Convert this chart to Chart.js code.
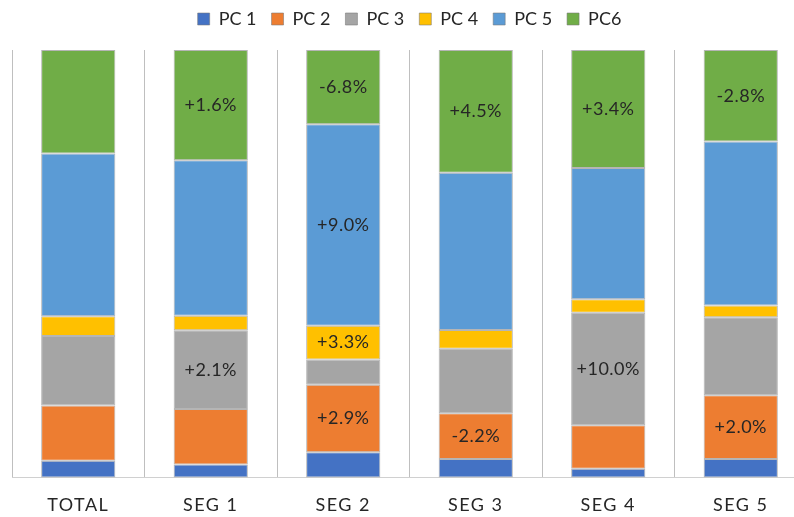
<!DOCTYPE html>
<html>
<head>
<meta charset="utf-8">
<script src="https://cdn.jsdelivr.net/npm/chart.js@4/dist/chart.umd.min.js"></script>
<style>
  html, body { margin: 0; padding: 0; background: #ffffff; overflow: hidden; }
  #wrap { width: 820px; height: 517px; }
</style>
</head>
<body>
<div id="wrap"><canvas id="chart" width="820" height="517"></canvas></div>
<script>
// Categories along the x axis
const categories = ['TOTAL', 'SEG 1', 'SEG 2', 'SEG 3', 'SEG 4', 'SEG 5'];

// Share of each component per category (%), stacked to 100
const pc1 = [3.9, 3.0, 5.9, 4.3, 2.0, 4.3];
const pc2 = [12.9, 13.0, 15.8, 10.7, 10.2, 14.9];
const pc3 = [16.3, 18.4, 5.9, 15.1, 26.3, 18.3];
const pc4 = [4.6, 3.4, 7.9, 4.4, 3.2, 2.7];
const pc5 = [38.1, 36.4, 47.1, 36.8, 30.7, 38.4];
const pc6 = [24.2, 25.8, 17.4, 28.7, 27.6, 21.4];

// Change versus TOTAL, shown inside the segments that moved notably
const pc1Labels = ['', '', '', '', '', ''];
const pc2Labels = ['', '', '+2.9%', '-2.2%', '', '+2.0%'];
const pc3Labels = ['', '+2.1%', '', '', '+10.0%', ''];
const pc4Labels = ['', '', '+3.3%', '', '', ''];
const pc5Labels = ['', '', '+9.0%', '', '', ''];
const pc6Labels = ['', '+1.6%', '-6.8%', '+4.5%', '+3.4%', '-2.8%'];

const seriesNames = ['PC 1', 'PC 2', 'PC 3', 'PC 4', 'PC 5', 'PC6'];

const FONT = 'Lato, "Open Sans", sans-serif';
const TEXT = '#262626';

const colors = ['#4472C4', '#ED7D31', '#A5A5A5', '#FFC000', '#5B9BD5', '#70AD47'];
const values = [pc1, pc2, pc3, pc4, pc5, pc6];
const labels = [pc1Labels, pc2Labels, pc3Labels, pc4Labels, pc5Labels, pc6Labels];

const datasets = seriesNames.map((name, i) => ({
  label: name,
  data: values[i],
  changeLabels: labels[i],
  backgroundColor: colors[i],
  borderColor: 'rgba(120,120,120,0.55)',
  borderWidth: 1,
  borderSkipped: false,
  categoryPercentage: 1.0,
  barPercentage: 0.56
}));

// Category names are drawn after the bars (ticks z: 1) with wider lettering
const spacing = {
  id: 'spacing',
  beforeDraw(chart) { chart.ctx.letterSpacing = '0px'; },
  afterDatasetsDraw(chart) { chart.ctx.letterSpacing = '1.5px'; },
  afterDraw(chart) { chart.ctx.letterSpacing = '0px'; }
};

// Centred text inside each labelled segment
const segmentLabels = {
  id: 'segmentLabels',
  afterDatasetsDraw(chart) {
    const ctx = chart.ctx;
    ctx.save();
    ctx.letterSpacing = '0.5px';
    ctx.font = '18px ' + FONT;
    ctx.fillStyle = TEXT;
    ctx.textAlign = 'center';
    ctx.textBaseline = 'middle';
    chart.data.datasets.forEach((ds, di) => {
      const meta = chart.getDatasetMeta(di);
      meta.data.forEach((bar, i) => {
        const txt = ds.changeLabels[i];
        if (!txt) return;
        const p = bar.getProps(['x', 'y', 'base'], true);
        ctx.fillText(txt, p.x, (p.y + p.base) / 2);
      });
    });
    ctx.restore();
  }
};

new Chart(document.getElementById('chart'), {
  type: 'bar',
  data: { labels: categories, datasets },
  options: {
    responsive: false,
    animation: false,
    devicePixelRatio: 1,
    layout: { padding: { top: -5, left: 12, right: 13, bottom: -16 } },
    plugins: {
      legend: {
        position: 'top',
        labels: {
          font: { family: FONT, size: 18 },
          color: TEXT,
          boxWidth: 12,
          boxHeight: 12,
          padding: 15
        }
      },
      // spacer between the legend and the plot area
      title: {
        display: true,
        text: '',
        weight: 500,
        font: { size: 1, lineHeight: 1 },
        padding: { top: 0, bottom: 11 }
      },
      tooltip: { enabled: false }
    },
    scales: {
      x: {
        stacked: true,
        grid: { offset: true, color: '#BFBFBF', lineWidth: 1, drawTicks: false },
        border: { color: '#D0D0D0' },
        ticks: { font: { family: FONT, size: 18 }, color: TEXT, padding: 17, z: 1 }
      },
      y: {
        stacked: true,
        min: 0,
        max: 100,
        display: false
      }
    }
  },
  plugins: [segmentLabels, spacing]
});
</script>
</body>
</html>
